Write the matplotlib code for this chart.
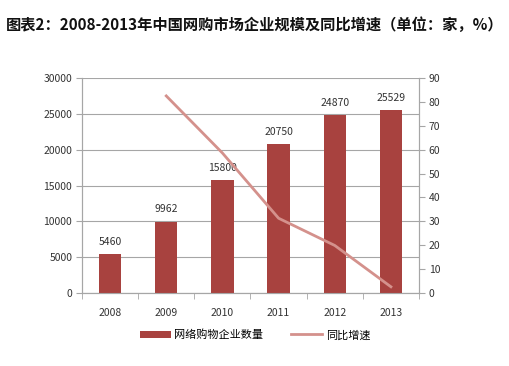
import matplotlib.pyplot as plt
import numpy as np

plt.rcParams['font.family'] = ['Noto Sans CJK SC', 'DejaVu Sans']

years = ['2008', '2009', '2010', '2011', '2012', '2013']
companies = [5460, 9962, 15800, 20750, 24870, 25529]
growth = [None, 82.5, 58.6, 31.3, 19.9, 2.6]

title = '图表2：2008-2013年中国网购市场企业规模及同比增速（单位：家，%）'
bar_label = '网络购物企业数量'
line_label = '同比增速'

bar_color = '#A8423F'
line_color = '#D4918C'
grid_color = '#A6A6A6'
text_color = '#333333'

fig = plt.figure(figsize=(5.1, 3.66), dpi=100)
ax = fig.add_axes([82 / 510, 1 - 293 / 366, (419 - 82) / 510, (293 - 78) / 366])
ax2 = ax.twinx()

x = np.arange(len(years))
bars = ax.bar(x, companies, width=0.4, color=bar_color, label=bar_label, zorder=3)
for xi, v in zip(x, companies):
    ax.text(xi, v + 1000, str(v), ha='center', va='bottom', fontsize=7.5, color=text_color)

gx = [xi for xi, g in zip(x, growth) if g is not None]
gy = [g for g in growth if g is not None]
line, = ax2.plot(gx, gy, color=line_color, linewidth=2, label=line_label, zorder=4)

ax.set_xlim(-0.5, len(years) - 0.5)
ax.set_ylim(0, 30000)
ax.set_yticks(np.arange(0, 30001, 5000))
ax2.set_ylim(0, 90)
ax2.set_yticks(np.arange(0, 91, 10))

ax.set_xticks(x)
ax.set_xticklabels(years)
ax.set_xticks(np.arange(-0.5, len(years), 1), minor=True)
ax.tick_params(axis='x', which='major', length=0, pad=11, labelsize=7.5, labelcolor=text_color)
ax.tick_params(axis='x', which='minor', length=4, color=grid_color, direction='out')
ax.tick_params(axis='y', length=4, color=grid_color, labelsize=7.5, labelcolor=text_color, pad=3)
ax2.tick_params(axis='y', length=4, color=grid_color, labelsize=7.5, labelcolor=text_color, pad=3)

ax.grid(axis='y', color=grid_color, linewidth=0.8, zorder=0)
ax.set_axisbelow(True)
for a in (ax, ax2):
    a.spines['top'].set_visible(False)
    for s in ('left', 'right', 'bottom'):
        a.spines[s].set_color(grid_color)
        a.spines[s].set_linewidth(0.8)

fig.text(255 / 510, 1 - 25 / 366, title, ha='center', va='center', fontsize=11, fontweight='bold', color='#111111')

fig.legend([bars, line], [bar_label, line_label], loc='center', bbox_to_anchor=(0.5, 1 - 335 / 366),
           ncol=2, frameon=False, fontsize=8, handlelength=2.8, columnspacing=2.5, handletextpad=0.3)

fig.savefig('out.png', dpi=100)
